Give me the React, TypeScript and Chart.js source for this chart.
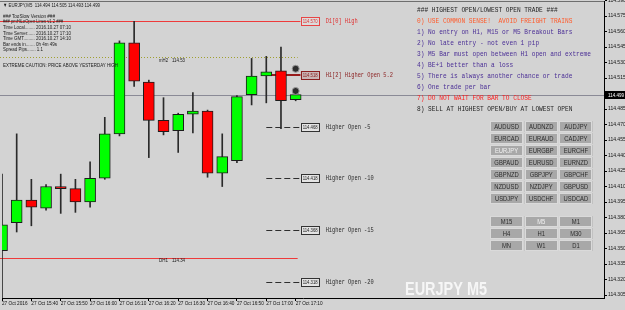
import React, { useEffect, useRef } from 'react';
import { Chart, registerables } from 'chart.js';

Chart.register(...registerables);

// ---------- data ----------
const barTimes = ['15:30', '15:35', '15:40', '15:45', '15:50', '15:55', '16:00', '16:05', '16:10', '16:15', '16:20',
  '16:25', '16:30', '16:35', '16:40', '16:45', '16:50', '16:55', '17:00', '17:05', '17:10'];
const shiftSlots = 21;
const categories = barTimes.concat(Array.from({ length: shiftSlots }, () => ''));

const opens = [114.348, 114.375, 114.397, 114.389, 114.410, 114.408, 114.395, 114.418, 114.461, 114.549, 114.511,
  114.474, 114.464, 114.480, 114.483, 114.423, 114.435, 114.499, 114.517, 114.522, 114.494];
const highs = [114.422, 114.461, 114.417, 114.412, 114.422, 114.417, 114.434, 114.477, 114.551, 114.570, 114.513,
  114.496, 114.481, 114.501, 114.484, 114.461, 114.498, 114.534, 114.536, 114.545, 114.505];
const lows = [114.296, 114.366, 114.372, 114.387, 114.384, 114.385, 114.390, 114.417, 114.459, 114.507, 114.438,
  114.460, 114.443, 114.462, 114.419, 114.410, 114.433, 114.489, 114.491, 114.466, 114.493];
const closes = [114.373, 114.397, 114.390, 114.410, 114.408, 114.395, 114.418, 114.461, 114.549, 114.512, 114.474,
  114.463, 114.480, 114.483, 114.423, 114.439, 114.497, 114.517, 114.521, 114.493, 114.499];

const xTickLabels = ['27 Oct 2016', '27 Oct 15:40', '27 Oct 15:50', '27 Oct 16:00', '27 Oct 16:10', '27 Oct 16:20',
  '27 Oct 16:30', '27 Oct 16:40', '27 Oct 16:50', '27 Oct 17:00', '27 Oct 17:10'];
const yTickValues = [114.305, 114.320, 114.335, 114.350, 114.365, 114.380, 114.395, 114.410, 114.425, 114.440,
  114.455, 114.470, 114.485, 114.515, 114.530, 114.545, 114.560, 114.575, 114.590];
const yMin = 114.3021;
const yMax = 114.5896;

const bidPrice = 114.499;
const d1High = 114.570;
const h1HigherOpen = 114.518;
const higherOpenLevels = [114.468, 114.418, 114.368, 114.318];
const higherOpenNames = ['Higher Open -5', 'Higher Open -10', 'Higher Open -15', 'Higher Open -20'];
const mH2Level = 114.535;
const dH1Level = 114.341;
const markerBarTime = '17:10';
const markerValues = [114.524, 114.5025];

const infoLines = [
  '▼ EURJPY,M5  114.494 114.505 114.493 114.499',
  '### TooSlow Version ###',
  '### pmHiLoOpen Lines v1.2 ###',
  'Time Local........ 2016.10.27 07:10',
  'Time Server...... 2016.10.27 17:10',
  'Time GMT......... 2016.10.27 14:10',
  'Bar ends in....... 0h 4m 49s',
  'Spread Pips....... 1.1',
];
const cautionText = 'EXTREME CAUTION: PRICE ABOVE YESTERDAY HIGH';

const rulesLines = [
  '### HIGHEST OPEN/LOWEST OPEN TRADE ###',
  '0) USE COMMON SENSE!  AVOID FREIGHT TRAINS',
  '1) No entry on H1, M15 or M5 Breakout Bars',
  '2) No late entry - not even 1 pip',
  '3) M5 Bar must open between H1 open and extreme',
  '4) BE+1 better than a loss',
  '5) There is always another chance or trade',
  '6) One trade per bar',
  '7) DO NOT WAIT FOR BAR TO CLOSE',
  '8) SELL AT HIGHEST OPEN/BUY AT LOWEST OPEN',
];

const pairButtons = [
  ['AUDUSD', 'AUDNZD', 'AUDJPY'],
  ['EURCAD', 'EURAUD', 'CADJPY'],
  ['EURJPY', 'EURGBP', 'EURCHF'],
  ['GBPAUD', 'EURUSD', 'EURNZD'],
  ['GBPNZD', 'GBPJPY', 'GBPCHF'],
  ['NZDUSD', 'NZDJPY', 'GBPUSD'],
  ['USDJPY', 'USDCHF', 'USDCAD'],
];
const tfButtons = [
  ['M15', 'M5', 'M1'],
  ['H4', 'H1', 'M30'],
  ['MN', 'W1', 'D1'],
];
const activePair = 'EURJPY';
const activeTf = 'M5';
const watermark = 'EURJPY M5';

// ---------- styles / layout ----------
const SANS = '"Liberation Sans", Arial, sans-serif';
const MONO = '"Liberation Mono", "Courier New", monospace';
const infoWidths = [97, 52, 60, 68, 68, 68, 54, 40];
const ruleColors = ['#1e1e1e', '#ff5a2a', '#4b2f96', '#4b2f96', '#4b2f96', '#4b2f96', '#4b2f96', '#4b2f96', '#ff1e1e', '#1e1e1e'];

function fitText(ctx: CanvasRenderingContext2D, text: string, x: number, y: number, width: number, font: string,
  color: string, align: CanvasTextAlign = 'left') {
  ctx.save();
  ctx.font = font;
  ctx.fillStyle = color;
  ctx.textBaseline = 'middle';
  ctx.textAlign = align;
  const w = ctx.measureText(text).width || 1;
  ctx.translate(x, y);
  ctx.scale(width / w, 1);
  ctx.fillText(text, 0, 0);
  ctx.restore();
}

function hline(ctx: CanvasRenderingContext2D, x1: number, x2: number, py: number, color: string, lw: number,
  dash: number[]) {
  ctx.save();
  ctx.strokeStyle = color;
  ctx.lineWidth = lw;
  ctx.setLineDash(dash);
  const yy = lw % 2 === 1 ? Math.round(py) + 0.5 : Math.round(py);
  ctx.beginPath();
  ctx.moveTo(x1, yy);
  ctx.lineTo(x2, yy);
  ctx.stroke();
  ctx.restore();
}

const overlayPlugin = {
  id: 'mt4overlay',
  beforeDatasetsDraw(chart: any) {
    const { ctx, chartArea: a, scales } = chart;
    const x = scales.x;
    const y = scales.y;
    const endX = x.getPixelForValue(20) + 5;
    const startX = x.getPixelForValue(18);
    hline(ctx, 0, a.right, a.top, '#6e6e6e', 1, []);
    hline(ctx, 0, endX, y.getPixelForValue(d1High), '#ee3a3a', 1, []);
    hline(ctx, 0, endX - 3, y.getPixelForValue(mH2Level), '#a0a030', 1, [1, 2]);
    hline(ctx, 0, endX - 3, y.getPixelForValue(dH1Level), '#ee3a3a', 1, []);
    hline(ctx, 0, a.right, y.getPixelForValue(bidPrice), '#8a8a96', 1, []);
    higherOpenLevels.forEach((v) => hline(ctx, startX, endX, y.getPixelForValue(v), '#2e2e2e', 1, [6, 3]));
    hline(ctx, startX + 1, endX, y.getPixelForValue(h1HigherOpen), '#981c1c', 2, []);
  },
  afterDatasetsDraw(chart: any) {
    const { ctx, scales } = chart;
    const x = scales.x;
    const y = scales.y;
    const boxX = x.getPixelForValue(20) + 5;
    const drawBox = (v: number, border: string, fill: string, color: string, label: string, lcolor: string) => {
      const py = Math.round(y.getPixelForValue(v));
      ctx.save();
      ctx.fillStyle = fill;
      ctx.fillRect(boxX, py - 4, 18, 8);
      ctx.strokeStyle = border;
      ctx.lineWidth = 1;
      ctx.strokeRect(Math.round(boxX) + 0.5, py - 3.5, 18, 8);
      ctx.restore();
      fitText(ctx, v.toFixed(3), boxX + 2, py + 0.5, 15, `5px ${SANS}`, color);
      fitText(ctx, label, boxX + 25, py + 0.5, label.length * 3.2, `6.5px ${MONO}`, lcolor);
    };
    drawBox(d1High, '#e84545', '#dcdcdc', '#e03030', 'D1[0] High', '#e03030');
    drawBox(h1HigherOpen, '#8a1e1e', '#c9b4b4', '#8a1e1e', 'H1[2] Higher Open 5.2', '#8a1e1e');
    higherOpenLevels.forEach((v, i) => drawBox(v, '#333333', '#e4e4e4', '#222222', higherOpenNames[i], '#2a2a2a'));

    const lbl = (name: string, v: number) => {
      const py = y.getPixelForValue(v) + 3;
      fitText(ctx, name, 159, py, 9, `5px ${SANS}`, '#1a1a1a');
      fitText(ctx, v.toFixed(2), 172, py, 13, `5px ${SANS}`, '#1a1a1a');
    };
    lbl('mH2', mH2Level);
    lbl('DH1', dH1Level);

    const infoY = [5, 16, 21.5, 27, 33, 38.5, 44, 49.5];
    infoLines.forEach((t, i) => fitText(ctx, t, 3, infoY[i], infoWidths[i], `5.5px ${SANS}`, '#1a1a1a'));
    fitText(ctx, cautionText, 3, 65, 115, `5.5px ${SANS}`, '#1a1a1a');

    rulesLines.forEach((t, i) => fitText(ctx, t, 417, 10 + i * 11, t.length * 3.7, `7px ${MONO}`, ruleColors[i]));

    const drawGrid = (rows: string[][], top: number, active: string) => {
      rows.forEach((row, r) => row.forEach((name, c) => {
        const bx = 490 + c * 34.7;
        const by = top + r * 12;
        ctx.save();
        ctx.fillStyle = '#a8a8a8';
        ctx.fillRect(bx, by, 33, 11);
        ctx.strokeStyle = '#dadada';
        ctx.lineWidth = 1;
        ctx.strokeRect(Math.round(bx) + 0.5, by + 0.5, 32, 10);
        ctx.font = `6.5px ${SANS}`;
        const w = ctx.measureText(name).width * 0.9;
        ctx.restore();
        fitText(ctx, name, bx + 16.5, by + 6, w, `6.5px ${SANS}`, name === active ? '#f2f2f2' : '#2c2c2c', 'center');
      }));
    };
    drawGrid(pairButtons, 121, activePair);
    drawGrid(tfButtons, 216, activeTf);

    fitText(ctx, watermark, 446, 290, 82, `bold 19px ${SANS}`, '#f6f6f6', 'center');
  },
  afterDraw(chart: any) {
    const { ctx, chartArea: a, scales } = chart;
    const py = Math.round(scales.y.getPixelForValue(bidPrice));
    ctx.save();
    ctx.fillStyle = '#000000';
    ctx.fillRect(a.right + 1, py - 4, 20, 8);
    ctx.restore();
    fitText(ctx, bidPrice.toFixed(3), a.right + 4, py + 0.5, 16, `5px ${SANS}`, '#ffffff');
  },
};

export default function App() {
  const ref = useRef<HTMLCanvasElement>(null);
  useEffect(() => {
    const upColor = '#00ff00';
    const downColor = '#ff0000';
    const chart = new Chart(ref.current as HTMLCanvasElement, {
      type: 'bar',
      data: {
        labels: categories,
        datasets: [
          {
            type: 'line',
            data: markerValues.map((v) => ({ x: markerBarTime, y: v })) as any,
            showLine: false,
            pointRadius: 3.5,
            pointBackgroundColor: '#2e2e2e',
            pointBorderColor: '#9a9a9a',
            pointBorderWidth: 1,
            order: 1,
          } as any,
          {
            data: opens.map((o, i) => [o, closes[i]]) as any,
            backgroundColor: closes.map((c, i) => (c >= opens[i] ? upColor : downColor)),
            borderColor: '#1c1c1c',
            borderWidth: 1,
            borderSkipped: false,
            barThickness: 11,
            grouped: false,
            order: 2,
          } as any,
          {
            data: lows.map((l, i) => [l, highs[i]]) as any,
            backgroundColor: '#2a2a2a',
            borderWidth: 0,
            barThickness: 1,
            grouped: false,
            order: 3,
          } as any,
        ],
      },
      options: {
        responsive: false,
        animation: false,
        devicePixelRatio: 1,
        layout: { autoPadding: false, padding: { left: 2, top: 1, right: 0, bottom: 0 } },
        plugins: { legend: { display: false }, tooltip: { enabled: false } },
        scales: {
          x: {
            type: 'category',
            offset: false,
            grid: {
              display: true,
              offset: false,
              drawOnChartArea: false,
              drawTicks: true,
              tickLength: 3,
              color: (c: any) => (c.index % 2 === 0 && c.index / 2 < xTickLabels.length ? '#000' : 'rgba(0,0,0,0)'),
            },
            border: { display: true, color: '#000', width: 1 },
            ticks: {
              autoSkip: false,
              maxRotation: 0,
              minRotation: 0,
              align: 'start',
              padding: 0,
              color: '#111',
              font: { size: 4.7, family: SANS },
              callback: (_v: any, i: number) => (i % 2 === 0 && i / 2 < xTickLabels.length ? xTickLabels[i / 2] : ''),
            },
            afterFit: (s: any) => { s.height = 12; s.paddingLeft = 0; s.paddingRight = 0; },
          },
          y: {
            type: 'linear',
            position: 'right',
            min: yMin,
            max: yMax,
            grid: { display: true, drawOnChartArea: false, drawTicks: true, tickLength: 3, color: '#000' },
            border: { display: true, color: '#000', width: 1 },
            afterBuildTicks: (s: any) => { s.ticks = yTickValues.map((v) => ({ value: v })); },
            ticks: {
              padding: 1,
              color: '#111',
              font: { size: 5, family: SANS },
              callback: (v: any) => Number(v).toFixed(3),
            },
            afterFit: (s: any) => { s.width = 21; s.paddingTop = 0; s.paddingBottom = 0; },
          },
        },
      } as any,
      plugins: [overlayPlugin],
    });
    return () => chart.destroy();
  }, []);
  return (
    <div style={{ position: 'absolute', left: 0, top: 0, width: 625, height: 310, background: '#d3d3d3' }}>
      <canvas ref={ref} width={625} height={310} style={{ display: 'block' }} />
    </div>
  );
}
